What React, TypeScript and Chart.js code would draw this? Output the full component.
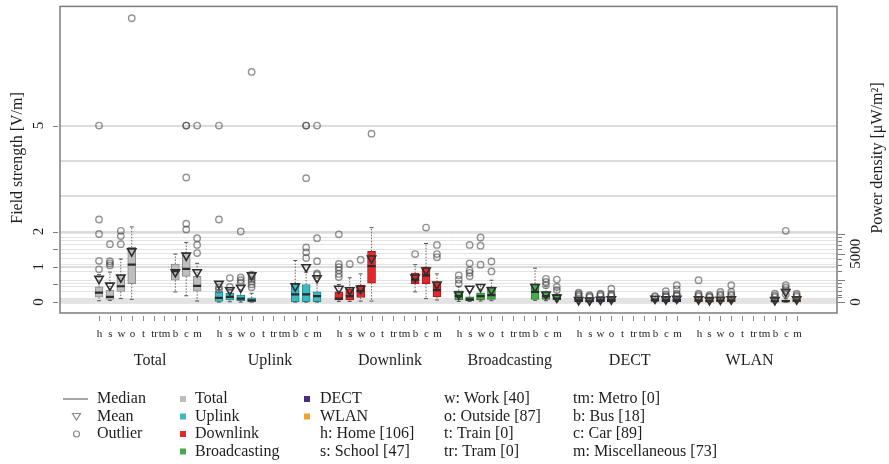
import React, { useEffect, useRef } from 'react';
import { Chart, registerables } from 'chart.js';

Chart.register(...registerables);

// ---------- data ----------
const groups = ['Total', 'Uplink', 'Downlink', 'Broadcasting', 'DECT', 'WLAN'];
const categories = ['h', 's', 'w', 'o', 't', 'tr', 'tm', 'b', 'c', 'm'];
const measuredCategories = ['h', 's', 'w', 'o', 'b', 'c', 'm'];
const groupColors = ['#bebebe', '#3bbac2', '#e2292a', '#47aa4b', '#4a2d80', '#efa22c'];
const groupBorders = ['#8c8c8c', '#26888e', '#a3191a', '#2c7a31', '#2b1850', '#a8701a'];

// order of inner arrays: h, s, w, o, b, c, m  (field strength, V/m)
const lowerWhisker = [
  [0.04, 0.05, 0.10, 0.08, 0.29, 0.18, 0.03],
  [0.00, 0.01, 0.00, 0.00, 0.00, 0.00, 0.00],
  [0.02, 0.02, 0.03, 0.03, 0.29, 0.10, 0.06],
  [0.02, 0.02, 0.03, 0.04, 0.05, 0.04, 0.03],
  [0.00, 0.00, 0.00, 0.00, 0.01, 0.00, 0.00],
  [0.00, 0.00, 0.00, 0.00, 0.00, 0.00, 0.00],
];
const lowerQuartile = [
  [0.14, 0.08, 0.30, 0.52, 0.62, 0.73, 0.31],
  [0.02, 0.06, 0.04, 0.01, 0.01, 0.01, 0.01],
  [0.06, 0.06, 0.13, 0.54, 0.52, 0.52, 0.15],
  [0.06, 0.04, 0.06, 0.08, 0.08, 0.08, 0.06],
  [0.01, 0.01, 0.01, 0.01, 0.02, 0.01, 0.01],
  [0.01, 0.01, 0.01, 0.01, 0.01, 0.00, 0.01],
];
const medians = [
  [0.27, 0.15, 0.45, 1.06, 0.88, 0.94, 0.46],
  [0.12, 0.15, 0.10, 0.05, 0.22, 0.22, 0.17],
  [0.10, 0.17, 0.31, 1.02, 0.64, 0.76, 0.34],
  [0.17, 0.08, 0.17, 0.20, 0.29, 0.17, 0.10],
  [0.04, 0.03, 0.04, 0.05, 0.06, 0.04, 0.05],
  [0.04, 0.03, 0.04, 0.04, 0.03, 0.03, 0.04],
];
const upperQuartile = [
  [0.43, 0.34, 0.76, 1.55, 1.08, 1.39, 0.73],
  [0.30, 0.25, 0.20, 0.12, 0.54, 0.50, 0.29],
  [0.29, 0.38, 0.48, 1.44, 0.82, 0.99, 0.57],
  [0.32, 0.15, 0.26, 0.43, 0.52, 0.29, 0.22],
  [0.08, 0.06, 0.08, 0.09, 0.10, 0.08, 0.09],
  [0.08, 0.06, 0.07, 0.08, 0.06, 0.06, 0.07],
];
const upperWhisker = [
  [0.78, 0.85, 1.22, 2.13, 1.36, 1.69, 1.10],
  [0.35, 0.35, 0.35, 0.25, 1.18, 0.85, 0.60],
  [0.50, 0.69, 0.80, 2.11, 1.06, 1.66, 0.80],
  [0.45, 0.30, 0.50, 0.62, 0.96, 0.45, 0.40],
  [0.12, 0.10, 0.12, 0.14, 0.15, 0.12, 0.14],
  [0.14, 0.10, 0.12, 0.14, 0.10, 0.10, 0.12],
];
const means = [
  [0.66, 0.47, 0.70, 1.44, 0.85, 1.32, 0.85],
  [0.52, 0.34, 0.41, 0.76, 0.45, 0.99, 0.68],
  [0.38, 0.34, 0.38, 1.24, 0.70, 0.90, 0.50],
  [0.22, 0.38, 0.43, 0.34, 0.43, 0.22, 0.13],
  [0.06, 0.05, 0.07, 0.08, 0.10, 0.08, 0.10],
  [0.08, 0.06, 0.07, 0.08, 0.06, 0.29, 0.08],
];
const outliers = [
  [[5.0, 2.34, 1.93, 1.17, 0.93], [1.64, 1.16, 1.10, 1.04], [2.02, 1.87, 1.64], [8.04], [], [5.0, 5.0, 3.53, 2.22, 2.06], [5.0, 1.81, 1.62, 1.39]],
  [[5.0, 2.34, 0.42, 0.36], [0.68, 0.43], [2.0, 0.70, 0.62, 0.55], [6.52, 0.78, 0.72, 0.65, 0.58, 0.50, 0.42], [], [5.0, 5.0, 3.51, 1.55, 1.41, 1.25], [5.0, 1.81, 1.16, 0.81, 0.77]],
  [[1.92, 1.08, 0.99, 0.90, 0.80, 0.71], [1.08], [1.20], [4.77], [1.36], [2.11], [1.62, 1.36, 1.27]],
  [[0.76, 0.64, 0.52], [1.62, 1.10, 0.90, 0.83, 0.73], [1.83, 1.60, 1.06], [1.15, 0.87], [], [0.66, 0.57, 0.48], [0.64, 0.43, 0.34]],
  [[0.27, 0.23, 0.20, 0.16], [0.20, 0.17, 0.14], [0.24, 0.21, 0.17], [0.38, 0.24, 0.20, 0.17], [0.17, 0.15], [0.31, 0.22, 0.18, 0.15], [0.48, 0.36, 0.24, 0.20, 0.17]],
  [[0.62, 0.24, 0.20, 0.16], [0.20, 0.16, 0.14], [0.29, 0.22, 0.18], [0.48, 0.29, 0.22, 0.18], [0.24, 0.18, 0.14], [2.02, 0.48, 0.41, 0.34, 0.22], [0.24, 0.19, 0.15]],
];

// axis ticks
const fieldGridLines = [0, 1, 2, 3, 4, 5];
const fieldTickMarks = [0, 0.5, 1, 1.5, 2, 5];
const fieldTickLabels = [0, 1, 2, 5];
const powerGridLines = [250, 500, 750, 1000, 2000, 3000, 4000, 5000, 6000, 7000, 8000, 9000, 10000];
const powerMajorTicks = [0, 1000, 5000, 10000];
const powerMinorTicks = [50, 100, 250, 500, 750, 2000, 3000, 4000, 6000, 7000, 8000, 9000];
const powerTickLabels = [0, 5000];

const legendMarkers = ['Median', 'Mean', 'Outlier'];
const legendPlaces = ['h: Home [106]', 's: School [47]'];
const legendPlaces2 = ['w: Work [40]', 'o: Outside [87]', 't: Train [0]', 'tr: Tram [0]'];
const legendPlaces3 = ['tm: Metro [0]', 'b: Bus [18]', 'c: Car [89]', 'm: Miscellaneous [73]'];

// ---------- helpers ----------
const powerToField = (s: number) => Math.sqrt(s * 1e-6 * 377);
const slotOf = (g: number, cat: string) => g * 11 + categories.indexOf(cat);
const FONT = '"Liberation Serif", "DejaVu Serif", serif';

function buildDatasets() {
  const boxes: any[] = [];
  const boxBg: string[] = [];
  const boxBorder: string[] = [];
  const whiskers: any[] = [];
  const caps: any[] = [];
  const med: any[] = [];
  const mn: any[] = [];
  const out: any[] = [];
  groups.forEach((_, g) => {
    measuredCategories.forEach((cat, j) => {
      const x = slotOf(g, cat);
      boxes.push({ x, y: [lowerQuartile[g][j], upperQuartile[g][j]] });
      boxBg.push(groupColors[g]);
      boxBorder.push(groupBorders[g]);
      whiskers.push({ x, y: upperQuartile[g][j] }, { x, y: upperWhisker[g][j] }, { x, y: null });
      whiskers.push({ x, y: lowerQuartile[g][j] }, { x, y: lowerWhisker[g][j] }, { x, y: null });
      caps.push({ x, y: upperWhisker[g][j] }, { x, y: lowerWhisker[g][j] });
      med.push({ x, y: medians[g][j] });
      mn.push({ x, y: means[g][j] });
      outliers[g][j].forEach((v) => out.push({ x, y: v }));
    });
  });
  return [
    {
      type: 'scatter', label: 'Outlier', data: out, order: 1,
      pointStyle: 'circle', pointRadius: 3.2, pointBorderWidth: 1.4,
      pointBorderColor: 'rgba(60,60,60,0.55)', pointBackgroundColor: 'rgba(0,0,0,0)',
    },
    {
      type: 'scatter', label: 'Mean', data: mn, order: 2,
      pointStyle: 'triangle', pointRotation: 180, pointRadius: 4.8, pointBorderWidth: 1.6,
      pointBorderColor: '#2e2e2e', pointBackgroundColor: 'rgba(0,0,0,0)',
    },
    {
      type: 'scatter', label: 'Median', data: med, order: 3,
      pointStyle: 'line', pointRadius: 4, pointBorderWidth: 2.2, pointBorderColor: '#2a2a2a',
    },
    {
      type: 'scatter', label: 'Caps', data: caps, order: 4,
      pointStyle: 'line', pointRadius: 2, pointBorderWidth: 1, pointBorderColor: '#555',
    },
    {
      type: 'line', label: 'Whiskers', data: whiskers, order: 5, spanGaps: false,
      borderColor: '#666', borderWidth: 1, borderDash: [1.5, 1.5], pointRadius: 0, fill: false,
    },
    {
      type: 'bar', label: 'Boxes', data: boxes, order: 6,
      backgroundColor: boxBg, borderColor: boxBorder, borderWidth: 1,
      borderSkipped: false, barThickness: 8, grouped: false,
    },
  ];
}

function text(ctx: CanvasRenderingContext2D, s: string, x: number, y: number, size: number, align: CanvasTextAlign = 'left', rot = 0, color = '#1e1e1e') {
  ctx.save();
  ctx.font = `${size}px ${FONT}`;
  ctx.fillStyle = color;
  ctx.textAlign = align;
  ctx.textBaseline = 'middle';
  ctx.translate(x, y);
  if (rot) ctx.rotate(rot);
  ctx.fillText(s, 0, 0);
  ctx.restore();
}

const decorPlugin = {
  id: 'decor',
  beforeDatasetsDraw(chart: any) {
    const { ctx, chartArea } = chart;
    const y = chart.scales.y;
    const top = y.getPixelForValue(0.12);
    const bot = y.getPixelForValue(-0.05);
    ctx.save();
    ctx.fillStyle = '#e3e3e3';
    ctx.fillRect(chartArea.left, top, chartArea.right - chartArea.left, bot - top);
    ctx.restore();
  },
  afterDraw(chart: any) {
    const { ctx, chartArea } = chart;
    const x = chart.scales.x;
    const y = chart.scales.y;
    ctx.save();
    // frame
    ctx.strokeStyle = '#7c7c7c';
    ctx.lineWidth = 1.5;
    ctx.strokeRect(chartArea.left, chartArea.top, chartArea.right - chartArea.left, chartArea.bottom - chartArea.top);

    // x ticks and labels
    ctx.strokeStyle = '#8a8a8a';
    ctx.lineWidth = 1;
    groups.forEach((gName, g) => {
      categories.forEach((cat) => {
        const px = Math.round(x.getPixelForValue(slotOf(g, cat))) + 0.5;
        ctx.beginPath();
        ctx.moveTo(px, chartArea.bottom + 3);
        ctx.lineTo(px, chartArea.bottom + 8);
        ctx.stroke();
        text(ctx, cat, px, chartArea.bottom + 21, 11, 'center');
      });
      const cx = x.getPixelForValue(g * 11 + 4.5) + 2;
      text(ctx, gName, cx, chartArea.bottom + 48, 16, 'center');
    });
    ctx.restore();

    ctx.save();
    // left ticks
    ctx.strokeStyle = '#7c7c7c';
    ctx.lineWidth = 1;
    fieldTickMarks.forEach((v) => {
      const py = Math.round(y.getPixelForValue(v)) + 0.5;
      ctx.beginPath();
      ctx.moveTo(chartArea.left - 7, py);
      ctx.lineTo(chartArea.left - 2, py);
      ctx.stroke();
    });
    fieldTickLabels.forEach((v) => {
      text(ctx, String(v), 39, y.getPixelForValue(v), 15, 'center', -Math.PI / 2);
    });
    // right ticks
    powerMajorTicks.forEach((s) => {
      const py = Math.round(y.getPixelForValue(powerToField(s))) + 0.5;
      ctx.beginPath();
      ctx.moveTo(chartArea.right + 1, py);
      ctx.lineTo(chartArea.right + 8, py);
      ctx.stroke();
    });
    powerMinorTicks.forEach((s) => {
      const py = Math.round(y.getPixelForValue(powerToField(s))) + 0.5;
      ctx.beginPath();
      ctx.moveTo(chartArea.right + 1, py);
      ctx.lineTo(chartArea.right + 5, py);
      ctx.stroke();
    });
    powerTickLabels.forEach((s) => {
      text(ctx, String(s), 856, y.getPixelForValue(powerToField(s)), 15, 'center', -Math.PI / 2);
    });
    // axis titles
    text(ctx, 'Field strength [V/m]', 18, 158, 16, 'center', -Math.PI / 2);
    text(ctx, 'Power density [\u03bcW/m\u00b2]', 878, 158, 16, 'center', -Math.PI / 2);

    // legend
    const rows = [399, 416.5, 434, 451.5];
    ctx.strokeStyle = '#8a8a8a';
    ctx.lineWidth = 1.5;
    ctx.beginPath();
    ctx.moveTo(63, rows[0]);
    ctx.lineTo(88, rows[0]);
    ctx.stroke();
    ctx.lineWidth = 1.2;
    ctx.beginPath();
    ctx.moveTo(72.5, rows[1] - 3);
    ctx.lineTo(80.5, rows[1] - 3);
    ctx.lineTo(76.5, rows[1] + 3.5);
    ctx.closePath();
    ctx.stroke();
    ctx.beginPath();
    ctx.arc(76.5, rows[2], 3, 0, Math.PI * 2);
    ctx.stroke();
    legendMarkers.forEach((s, i) => text(ctx, s, 97, rows[i], 16));
    for (let i = 0; i < 4; i++) {
      ctx.fillStyle = groupColors[i];
      ctx.fillRect(180, rows[i] - 3, 6, 6);
      text(ctx, groups[i], 195, rows[i], 16);
    }
    for (let i = 4; i < 6; i++) {
      ctx.fillStyle = groupColors[i];
      ctx.fillRect(304, rows[i - 4] - 3, 6, 6);
      text(ctx, groups[i], 320, rows[i - 4], 16);
    }
    legendPlaces.forEach((s, i) => text(ctx, s, 320, rows[i + 2], 16));
    legendPlaces2.forEach((s, i) => text(ctx, s, 444, rows[i], 16));
    legendPlaces3.forEach((s, i) => text(ctx, s, 573, rows[i], 16));
    ctx.restore();
  },
};

export default function App() {
  const ref = useRef<HTMLCanvasElement>(null);
  useEffect(() => {
    if (!ref.current) return;
    const chart = new Chart(ref.current, {
      type: 'bar',
      data: { datasets: buildDatasets() as any },
      options: {
        animation: false,
        responsive: false,
        events: [],
        layout: { padding: { left: 60, right: 52, top: 3, bottom: 151 } },
        plugins: { legend: { display: false }, tooltip: { enabled: false } },
        scales: {
          x: {
            type: 'linear', min: -3.58, max: 67.7, display: false, offset: false,
            grid: { offset: false },
          },
          y: {
            type: 'linear', position: 'left', min: -0.308, max: 8.375,
            afterBuildTicks: (s: any) => { s.ticks = fieldGridLines.map((v) => ({ value: v })); },
            ticks: { display: false },
            grid: { color: '#dcdcdc', lineWidth: 2, drawTicks: false },
            border: { display: false },
            afterFit: (s: any) => { s.width = 0; },
          },
          yPower: {
            type: 'linear', position: 'right', min: -0.308, max: 8.375,
            afterBuildTicks: (s: any) => { s.ticks = powerGridLines.map((p) => ({ value: powerToField(p) })); },
            ticks: { display: false },
            grid: { color: '#e4e4e4', lineWidth: 1, drawTicks: false },
            border: { display: false },
            afterFit: (s: any) => { s.width = 0; },
          },
        },
      } as any,
      plugins: [decorPlugin],
    });
    return () => chart.destroy();
  }, []);
  return (
    <div style={{ position: 'fixed', left: 0, top: 0, width: 889, height: 464, background: '#fff' }}>
      <canvas ref={ref} width={889} height={464} style={{ display: 'block' }} />
    </div>
  );
}
